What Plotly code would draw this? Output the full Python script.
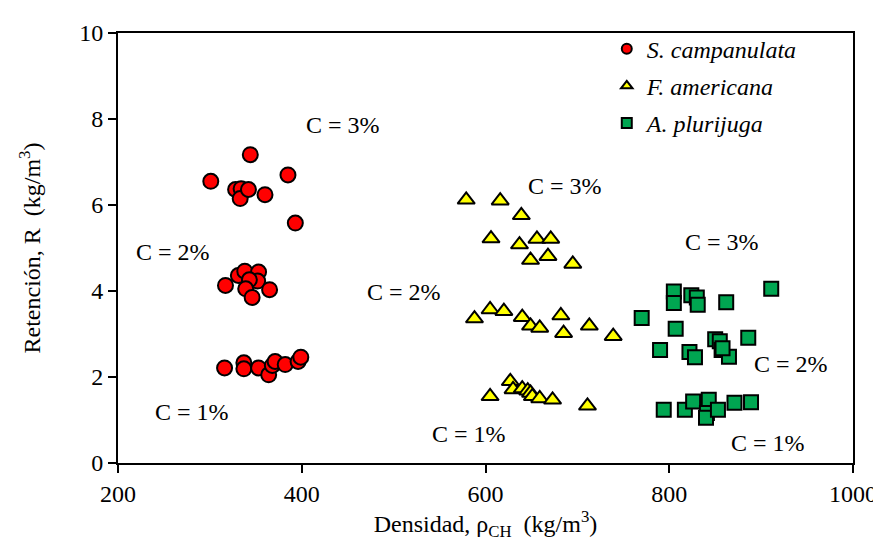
import plotly.graph_objects as go

# S. campanulata (red circles)
sc_x = [301, 328, 334, 333, 342, 344, 360, 385, 393,
        317, 331, 338, 353, 352, 343, 339, 346, 365,
        316, 337, 337, 353, 364, 368, 371, 382, 396, 399]
sc_y = [6.55, 6.36, 6.38, 6.15, 6.36, 7.17, 6.24, 6.70, 5.58,
        4.13, 4.36, 4.46, 4.44, 4.23, 4.26, 4.05, 3.85, 4.03,
        2.21, 2.33, 2.19, 2.21, 2.05, 2.27, 2.36, 2.29, 2.36, 2.46]

# F. americana (yellow triangles)
fa_x = [579, 616, 639, 606, 637, 656, 671, 649, 668, 695,
        588, 605, 620, 640, 649, 659, 682, 685, 713, 739,
        605, 627, 630, 640, 646, 649, 651, 659, 673, 711]
fa_y = [6.12, 6.10, 5.76, 5.22, 5.08, 5.21, 5.21, 4.72, 4.81, 4.63,
        3.36, 3.57, 3.53, 3.39, 3.19, 3.14, 3.43, 3.02, 3.19, 2.95,
        1.55, 1.90, 1.71, 1.73, 1.68, 1.63, 1.55, 1.50, 1.47, 1.33]

# A. plurijuga (green squares)
ap_x = [911, 805, 824, 830, 805, 831, 862, 770, 807,
        790, 822, 828, 850, 855, 857, 865, 886, 858,
        794, 817, 826, 843, 841, 840, 853, 871, 889]
ap_y = [4.05, 3.99, 3.90, 3.85, 3.72, 3.68, 3.74, 3.37, 3.12,
        2.63, 2.58, 2.46, 2.88, 2.83, 2.63, 2.47, 2.91, 2.67,
        1.24, 1.24, 1.43, 1.47, 1.16, 1.05, 1.24, 1.40, 1.41]

# annotation labels
lab_text = ["C = 3%", "C = 2%", "C = 1%",
            "C = 3%", "C = 2%", "C = 1%",
            "C = 3%", "C = 2%", "C = 1%"]
lab_x = [445, 260, 280, 687, 511, 582, 857, 933, 907]
lab_y = [7.86, 4.9, 1.19, 6.44, 3.98, 0.67, 5.14, 2.30, 0.47]

FONT = "Liberation Serif"
FS = 24

fig = go.Figure()

series = [
    ("S. campanulata", sc_x, sc_y, "circle", "#ff0000", 15),
    ("F. americana", fa_x, fa_y, "triangle-up", "#ffff00", 15),
    ("A. plurijuga", ap_x, ap_y, "square", "#00a651", 14),
]
for i, (name, xs, ys, sym, col, sz) in enumerate(series):
    fig.add_trace(go.Scatter(
        x=xs, y=ys, mode="markers", name=name, showlegend=False,
        marker=dict(symbol=sym, size=sz, color=col,
                    line=dict(color="black", width=2)),
    ))
for i, (name, xs, ys, sym, col, sz) in enumerate(series):
    fig.add_trace(go.Scatter(
        x=[None], y=[None], mode="markers", name="<i>" + name + "</i>",
        legendgroup=f"g{i}",
        marker=dict(symbol=sym, size=10, color=col,
                    line=dict(color="black", width=2)),
    ))

for t, x, y in zip(lab_text, lab_x, lab_y):
    fig.add_annotation(x=x, y=y, text=t, showarrow=False,
                       font=dict(family=FONT, size=FS, color="black"))

fig.update_layout(
    width=881, height=543,
    margin=dict(l=110, r=26, t=25, b=88),
    paper_bgcolor="white", plot_bgcolor="white",
    font=dict(family=FONT, size=FS, color="black"),
    showlegend=True,
    legend=dict(x=0.665, y=1.015, xanchor="left", yanchor="top",
                font=dict(family=FONT, size=FS, color="black"),
                bgcolor="rgba(0,0,0,0)", itemwidth=30,
                traceorder="grouped", tracegroupgap=3),
    xaxis=dict(range=[200, 1000], tickvals=[200, 400, 600, 800, 1000],
               showgrid=False, zeroline=False, showline=True,
               linecolor="black", linewidth=2, mirror=True,
               ticks="outside", ticklen=8, tickwidth=2, tickcolor="black",
               tickfont=dict(family=FONT, size=FS, color="black"),
               title=dict(text="Densidad, ρ<sub>CH</sub>  (kg/m<sup>3</sup>)",
                          font=dict(family=FONT, size=FS, color="black"),
                          standoff=6)),
    yaxis=dict(range=[0, 10], tickvals=[0, 2, 4, 6, 8, 10],
               showgrid=False, zeroline=False, showline=True,
               linecolor="black", linewidth=2, mirror=True,
               ticks="outside", ticklen=8, tickwidth=2, tickcolor="black",
               tickfont=dict(family=FONT, size=FS, color="black"),
               title=dict(text="Retención, R  (kg/m<sup>3</sup>)",
                          font=dict(family=FONT, size=FS, color="black"),
                          standoff=32)),
)

fig.write_html("out.html")
